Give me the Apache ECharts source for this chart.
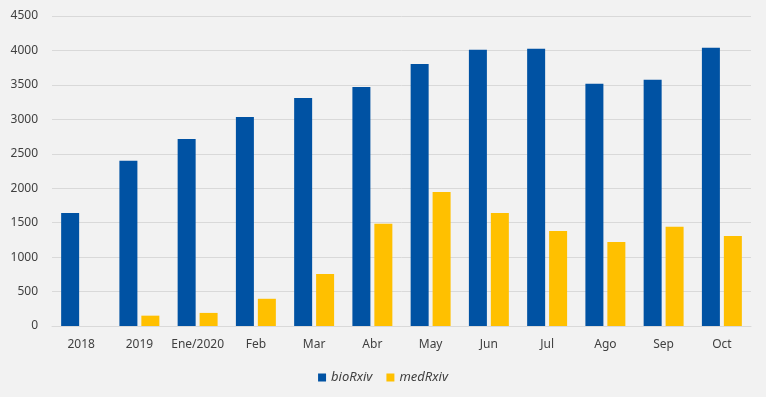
<!DOCTYPE html>
<html><head><meta charset="utf-8">
<script src="https://cdn.jsdelivr.net/npm/echarts@6/dist/echarts.min.js"></script>
<style>html,body{margin:0;padding:0;background:#f2f2f2;}#c{width:766px;height:397px;}</style>
</head><body><div id="c"></div>
<script>
const categories = ['2018','2019','Ene/2020','Feb','Mar','Abr','May','Jun','Jul','Ago','Sep','Oct'];
const bioRxiv = [1640, 2400, 2715, 3035, 3310, 3470, 3805, 4010, 4025, 3515, 3575, 4040];
const medRxiv = [0, 150, 190, 395, 755, 1485, 1945, 1640, 1380, 1220, 1440, 1305];
const yTicks = {min: 0, max: 4500, interval: 500};

const font = 'Noto Sans';
const chart = echarts.init(document.getElementById('c'));
chart.setOption({
  backgroundColor: '#f2f2f2',
  animation: false,
  grid: {left: 52, right: 15, top: 16, bottom: 71},
  legend: {
    bottom: 8, left: 'center', itemWidth: 8, itemHeight: 8, itemGap: 14,
    icon: 'rect',
    textStyle: {fontFamily: font, fontSize: 13, fontStyle: 'italic', color: '#404040'},
    data: ['bioRxiv', 'medRxiv']
  },
  xAxis: {
    type: 'category', data: categories,
    axisLine: {lineStyle: {color: '#d9d9d9'}},
    axisTick: {show: false},
    axisLabel: {fontFamily: font, fontSize: 12, color: '#404040', margin: 13, interval: 0}
  },
  yAxis: {
    type: 'value', min: yTicks.min, max: yTicks.max, interval: yTicks.interval,
    axisLine: {show: false}, axisTick: {show: false},
    splitLine: {lineStyle: {color: '#d9d9d9'}},
    axisLabel: {fontFamily: font, fontSize: 12, color: '#404040', margin: 14, formatter: v => String(v)}
  },
  series: [
    {name: 'bioRxiv', type: 'bar', data: bioRxiv, barWidth: 18, barGap: '22%', itemStyle: {color: '#0052a3'}},
    {name: 'medRxiv', type: 'bar', data: medRxiv, barWidth: 18, itemStyle: {color: '#ffc000'}}
  ]
});
</script></body></html>
